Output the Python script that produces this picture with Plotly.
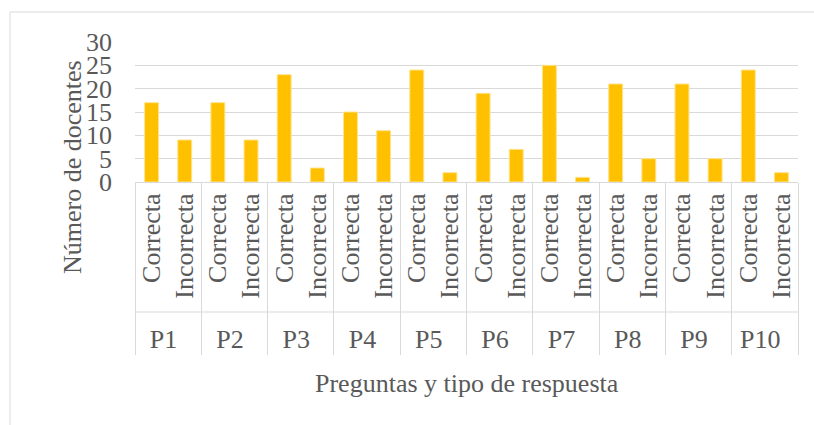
import plotly.graph_objects as go

preguntas = ["P1", "P2", "P3", "P4", "P5", "P6", "P7", "P8", "P9", "P10"]
tipos = ["Correcta", "Incorrecta"]
correctas = [17, 17, 23, 15, 24, 19, 25, 21, 21, 24]
incorrectas = [9, 9, 3, 11, 2, 7, 1, 5, 5, 2]
y_ticks = [0, 5, 10, 15, 20, 25, 30]

grupo, tipo, valores = [], [], []
for p, c, i in zip(preguntas, correctas, incorrectas):
    grupo += [p, p]
    tipo += tipos
    valores += [c, i]

FONT = "Liberation Serif"
GRAY = "#595959"
LINE = "#D9D9D9"

fig = go.Figure(go.Bar(
    x=[grupo, tipo], y=valores,
    marker=dict(color="#FFC000", line=dict(color="#FFE38A", width=1)),
))

W, H = 814, 425
L, R, T, B = 135, 16, 42, 243
pw, ph = W - L - R, H - T - B
def px_x(x):
    return (x - L) / pw
def px_y(y):
    return (H - B - y) / ph

fig.update_layout(
    width=W, height=H,
    margin=dict(l=L, r=R, t=T, b=B, autoexpand=False),
    paper_bgcolor="white", plot_bgcolor="white",
    bargap=0.58, showlegend=False,
    font=dict(family=FONT, color=GRAY, size=26),
    xaxis=dict(
        type="multicategory", tickangle=-90,
        tickfont=dict(family=FONT, size=26, color=GRAY),
        showline=True, linecolor=LINE, linewidth=1,
        showdividers=True, dividercolor=LINE, dividerwidth=1,
        showgrid=False, ticks="",
    ),
    yaxis=dict(
        range=[0, 30], tickvals=y_ticks,
        tickfont=dict(family=FONT, size=26, color=GRAY),
        showgrid=True, gridcolor=LINE, gridwidth=1,
        zeroline=False, showline=False, ticklabelstandoff=22,
    ),
    shapes=[
        dict(type="rect", xref="paper", yref="paper",
             x0=px_x(10), x1=px_x(830), y0=px_y(440), y1=px_y(12),
             line=dict(color=LINE, width=1), layer="below"),
        dict(type="line", xref="paper", yref="paper",
             x0=0, x1=1, y0=px_y(312), y1=px_y(312),
             line=dict(color=LINE, width=1)),
    ],
    annotations=[
        dict(text="Número de docentes", xref="paper", yref="paper",
             x=px_x(72), y=px_y(167), xanchor="center", yanchor="middle",
             textangle=-90, showarrow=False,
             font=dict(family=FONT, size=26, color=GRAY)),
        dict(text="Preguntas y tipo de respuesta", xref="paper", yref="paper",
             x=px_x(467), y=px_y(383), xanchor="center", yanchor="middle",
             showarrow=False,
             font=dict(family=FONT, size=26, color=GRAY)),
    ],
)

fig.write_html("out.html", config={"displayModeBar": False},
               post_script="document.body.style.margin='0';")
